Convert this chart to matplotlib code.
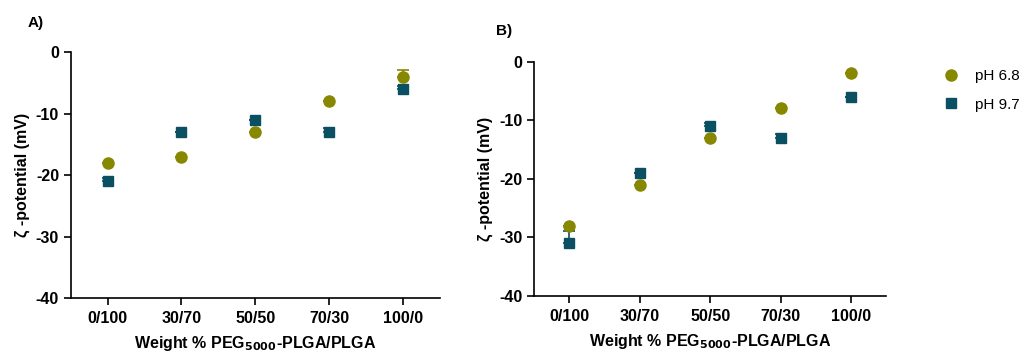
import numpy as np
import matplotlib.pyplot as plt
from matplotlib.lines import Line2D

plt.rcParams['font.family'] = ['Liberation Sans', 'DejaVu Sans']

# Data
categories = ['0/100', '30/70', '50/50', '70/30', '100/0']

a_ph68 = [-18, -17, -13, -8, -4]
a_ph68_err = [0, 0, 0, 0, 1]
a_ph97 = [-21, -13, -11, -13, -6]
a_ph97_err = [0.5, 0, 0, 0.7, 0.5]

b_ph68 = [-28, -21, -13, -8, -2]
b_ph68_err = [0, 0, 0, 0, 0]
b_ph97 = [-31, -19, -11, -13, -6]
b_ph97_err = [2, 0, 0.5, 0.7, 0]

yticks = [-40, -30, -20, -10, 0]

olive = '#878700'
teal = '#0b4f62'

fig = plt.figure(figsize=(10.27, 3.54), dpi=100)
axA = fig.add_axes([0.069, 0.158, 0.359, 0.695])
axB = fig.add_axes([0.52, 0.164, 0.343, 0.662])

x = np.arange(len(categories))


def draw_panel(ax, y68, e68, y97, e97, label_pad):
    ax.errorbar(x, y97, yerr=[np.zeros(len(e97)), e97], fmt='s', color=teal,
                ms=7.5, capsize=4, elinewidth=1.2, capthick=1.2, zorder=3)
    ax.errorbar(x, y68, yerr=[np.zeros(len(e68)), e68], fmt='o', color=olive,
                ms=8, capsize=4, elinewidth=1.2, capthick=1.2, zorder=4)
    ax.set_xlim(-0.5, 4.5)
    ax.set_ylim(-40, 0)
    ax.set_yticks(yticks)
    ax.set_yticklabels([str(t) for t in yticks])
    ax.set_xticks(x)
    ax.set_xticklabels(categories)
    for s in ['top', 'right']:
        ax.spines[s].set_visible(False)
    ax.spines['left'].set_linewidth(1.2)
    ax.spines['bottom'].set_linewidth(1.2)
    ax.tick_params(direction='out', length=5, width=1.2, labelsize=11.5)
    ax.tick_params(axis='x', pad=label_pad)
    for t in ax.get_xticklabels() + ax.get_yticklabels():
        t.set_fontweight('bold')
    ax.set_xlabel('Weight % PEG$_{\\mathbf{5000}}$-PLGA/PLGA', fontsize=11.5,
                  fontweight='bold', labelpad=6)
    ax.set_ylabel('ζ -potential (mV)', fontsize=11.5, fontweight='bold',
                  labelpad=4)


draw_panel(axA, a_ph68, a_ph68_err, a_ph97, a_ph97_err, 4)
draw_panel(axB, b_ph68, b_ph68_err, b_ph97, b_ph97_err, 4.5)

fig.text(0.027, 0.925, 'A)', fontsize=11, fontweight='bold')
fig.text(0.483, 0.9, 'B)', fontsize=11, fontweight='bold')

handles = [Line2D([], [], ls='none', marker='o', ms=8, color=olive),
           Line2D([], [], ls='none', marker='s', ms=7.5, color=teal)]
fig.legend(handles, ['pH 6.8', 'pH 9.7'], loc='upper left',
           bbox_to_anchor=(0.905, 0.843), frameon=False, fontsize=11,
           handletextpad=1.1, labelspacing=0.95, handlelength=1.0)

fig.savefig('out.png', dpi=100)
